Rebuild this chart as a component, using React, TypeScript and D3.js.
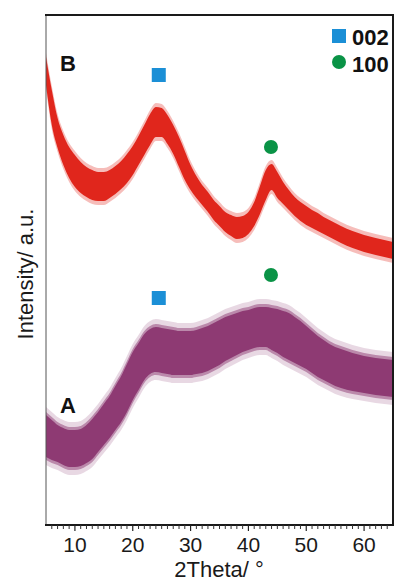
import * as d3 from "d3";

// 2Theta sample positions (degrees)
const theta = [
  5, 6, 7, 8, 9, 10, 11, 12, 13, 14, 15, 16, 17, 18, 19, 20, 21, 22, 23, 24,
  25, 26, 27, 28, 29, 30, 31, 32, 33, 34, 35, 36, 37, 38, 39, 40, 41, 42, 43, 44,
  45, 46, 47, 48, 49, 50, 51, 52, 53, 54, 55, 56, 58, 60, 62, 65,
];

// pattern B (red): top / bottom of the noisy band, arbitrary units
const bUpper = [
  468, 435, 407, 390, 378, 370, 363, 358, 355, 353, 353, 355, 359, 364, 371, 379, 389, 400, 411, 418,
  417, 410, 400, 388, 374, 360, 349, 340, 333, 325, 319, 313, 310, 308, 309, 313, 323, 339, 355, 361,
  353, 343, 335, 328, 323, 319, 315, 312, 308, 305, 302, 299, 294, 290, 287, 283,
];
const bLower = [
  440, 400, 377, 360, 347, 338, 332, 328, 325, 324, 324, 327, 331, 336, 342, 350, 360, 370, 380, 388,
  388, 381, 371, 358, 345, 335, 327, 320, 313, 305, 299, 293, 289, 286, 287, 291, 299, 311, 325, 335,
  327, 321, 315, 309, 304, 300, 297, 294, 291, 288, 285, 282, 277, 273, 270, 266,
];

// pattern A (purple)
const aUpper = [
  110, 105, 100, 97, 95, 95, 96, 100, 106, 113, 121, 129, 139, 149, 161, 173, 182, 191, 196, 198,
  197, 196, 195, 194, 194, 194, 195, 197, 199, 202, 205, 208, 210, 212, 214, 215, 217, 218, 218, 217,
  216, 214, 212, 208, 204, 199, 194, 189, 185, 181, 178, 176, 172, 169, 167, 165,
];
const aLower = [
  68, 65, 63, 60, 58, 58, 59, 62, 66, 73, 80, 87, 95, 103, 113, 125, 135, 145, 151, 153,
  152, 151, 150, 150, 150, 150, 151, 152, 154, 157, 160, 164, 167, 170, 173, 175, 177, 178, 178, 175,
  172, 168, 165, 162, 159, 156, 152, 148, 145, 142, 139, 137, 134, 132, 130, 128,
];

// reflection markers [2theta, intensity]
const marks002 = [[24.5, 450], [24.5, 227]];
const marks100 = [[43.9, 378], [43.9, 250]];

const xTicks = [10, 20, 30, 40, 50, 60];

const RED = "#e0261c";
const PURPLE = "#8e3a73";
const BLUE = "#1b8fd6";
const GREEN = "#0a9346";
const FONT = "'Liberation Sans', Arial, sans-serif";

export default function App() {
  const x = d3.scaleLinear().domain([5, 65]).range([46, 393]);
  const y = d3.scaleLinear().domain([0, 510]).range([525, 15]);

  const band = (up: number[], lo: number[], pad: number) =>
    d3
      .area<number>()
      .x((d) => x(d))
      .y0((_, i) => y(lo[i]) + pad)
      .y1((_, i) => y(up[i]) - pad)
      .curve(d3.curveMonotoneX)(theta) || "";

  const minor = d3.range(6, 65, 1).filter((t) => t % 10 !== 0);

  return (
    <svg
      width={395}
      height={581}
      style={{ position: "absolute", left: 0, top: 0, background: "#fff" }}
      fontFamily={FONT}
    >
      <defs>
        <clipPath id="plot">
          <rect x={46} y={15} width={347} height={510} />
        </clipPath>
      </defs>

      <g clipPath="url(#plot)">
        <path d={band(bUpper, bLower, 4)} fill={RED} opacity={0.3} />
        <path d={band(bUpper, bLower, 0)} fill={RED} />
        <path d={band(aUpper, aLower, 8)} fill={PURPLE} opacity={0.2} />
        <path d={band(aUpper, aLower, 3)} fill={PURPLE} opacity={0.5} />
        <path d={band(aUpper, aLower, 0)} fill={PURPLE} />
      </g>

      {marks002.map(([t, v], i) => (
        <rect key={"s" + i} x={x(t) - 7} y={y(v) - 7} width={14} height={14} fill={BLUE} />
      ))}
      {marks100.map(([t, v], i) => (
        <circle key={"c" + i} cx={x(t)} cy={y(v)} r={7} fill={GREEN} />
      ))}

      {/* frame */}
      <line x1={46} x2={46} y1={15} y2={525} stroke="#555" strokeWidth={1} />
      <line x1={45} x2={394} y1={15} y2={15} stroke="#1a1a1a" strokeWidth={2} />
      <line x1={393} x2={393} y1={14} y2={526} stroke="#1a1a1a" strokeWidth={2} />
      <line x1={45} x2={394} y1={525} y2={525} stroke="#1a1a1a" strokeWidth={2} />

      {/* x axis ticks */}
      {minor.map((t) => (
        <line key={"m" + t} x1={x(t)} x2={x(t)} y1={525} y2={529} stroke="#333" strokeWidth={1} />
      ))}
      {xTicks.map((t) => (
        <g key={"t" + t}>
          <line x1={x(t)} x2={x(t)} y1={525} y2={531} stroke="#222" strokeWidth={1.2} />
          <text x={x(t)} y={552} textAnchor="middle" fontSize={21} fill="#1a1a1a">
            {t}
          </text>
        </g>
      ))}

      <text x={219} y={577} textAnchor="middle" fontSize={22} fill="#1a1a1a">
        2Theta/ °
      </text>
      <text
        transform="translate(33,274) rotate(-90)"
        textAnchor="middle"
        fontSize={22}
        fill="#1a1a1a"
      >
        Intensity/ a.u.
      </text>

      {/* pattern labels */}
      <text x={60} y={71} fontSize={22} fontWeight="bold" fill="#111">B</text>
      <text x={60} y={413} fontSize={22} fontWeight="bold" fill="#111">A</text>

      {/* legend */}
      <rect x={332} y={29} width={14} height={14} fill={BLUE} />
      <text x={352} y={45} fontSize={22} fontWeight="bold" fill="#111">002</text>
      <circle cx={339} cy={62} r={7} fill={GREEN} />
      <text x={352} y={72} fontSize={22} fontWeight="bold" fill="#111">100</text>
    </svg>
  );
}
